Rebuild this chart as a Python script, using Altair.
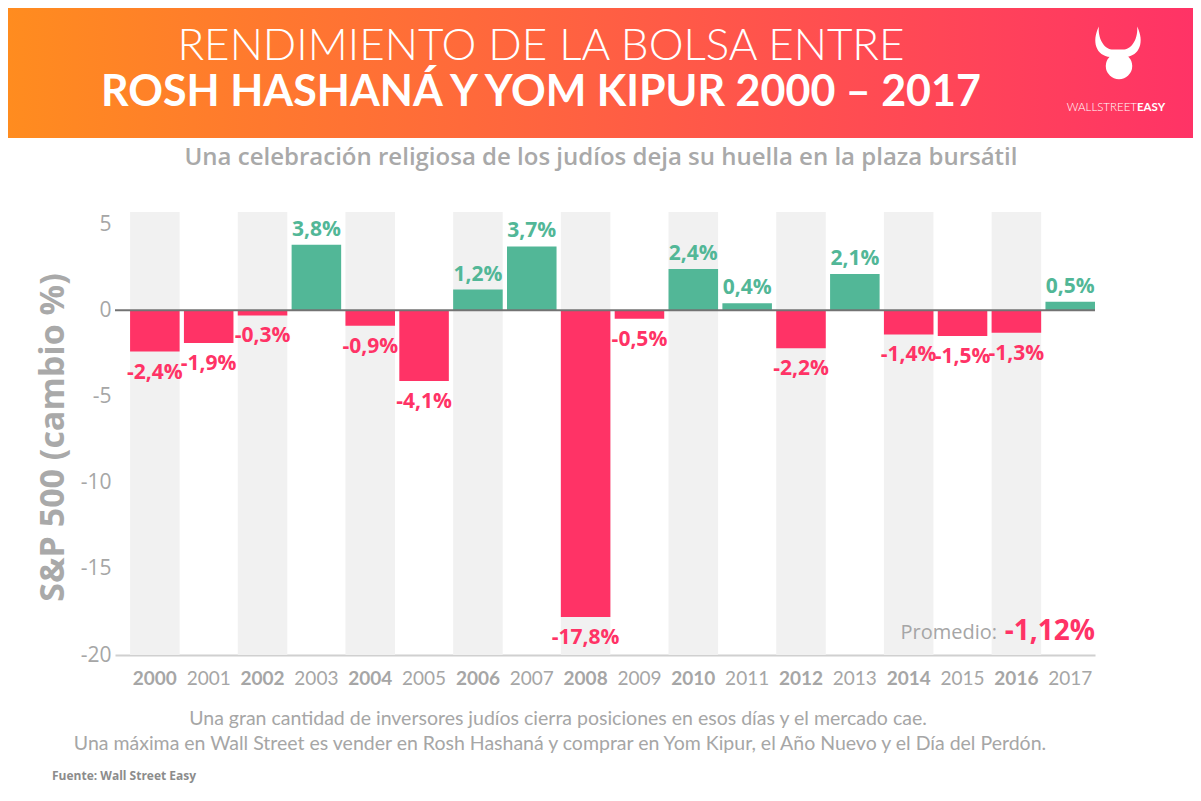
import altair as alt
import pandas as pd

years = [2000, 2001, 2002, 2003, 2004, 2005, 2006, 2007, 2008,
         2009, 2010, 2011, 2012, 2013, 2014, 2015, 2016, 2017]
values = [-2.4, -1.9, -0.3, 3.8, -0.9, -4.1, 1.2, 3.7, -17.8,
          -0.5, 2.4, 0.4, -2.2, 2.1, -1.4, -1.5, -1.3, 0.5]
y_ticks = [5, 0, -5, -10, -15, -20]

title1 = "RENDIMIENTO DE LA BOLSA ENTRE"
title2 = "ROSH HASHANÁ Y YOM KIPUR 2000 – 2017"
subtitle = "Una celebración religiosa de los judíos deja su huella en la plaza bursátil"
foot1 = "Una gran cantidad de inversores judíos cierra posiciones en esos días y el mercado cae."
foot2 = "Una máxima en Wall Street es vender en Rosh Hashaná y comprar en Yom Kipur, el Año Nuevo y el Día del Perdón."
source = "Fuente: Wall Street Easy"

PINK = "#ff3366"
GREEN = "#52b797"
GRAY_TXT = "#a6a6a6"

df = pd.DataFrame({"year": years, "value": values})
df["sign"] = ["pos" if v > 0 else "neg" for v in values]
df["label"] = [f"{v:.1f}".replace(".", ",") + "%" for v in values]
df["even"] = [y % 2 == 0 for y in years]
avg = sum(values) / len(values)
avg_label = f"{avg:.2f}".replace(".", ",") + "%"

W, H = 980, 443
PL, PT, PR, PB = 107, 204, 98, 138

x_enc = alt.X(
    "year:O",
    scale=alt.Scale(paddingInner=0.08, paddingOuter=0.14, align=1),
    axis=alt.Axis(
        title=None, labelAngle=0, ticks=False, domain=True,
        domainColor="#d0d0d0", domainWidth=2,
        labelFont="Lato", labelFontSize=19, labelColor=GRAY_TXT,
        labelPadding=14,
        labelFontWeight=alt.condition("datum.value % 2 == 0", alt.value("bold"), alt.value("normal")),
    ),
)
y_scale = alt.Scale(domain=[-20, 5.7], nice=False, zero=False)
y_enc = alt.Y(
    "value:Q", scale=y_scale,
    axis=alt.Axis(
        values=y_ticks, grid=False, domain=False, ticks=False,
        labelFont="Open Sans", labelFontSize=21, labelColor=GRAY_TXT,
        labelPadding=4, labelExpr="'' + datum.value",
        title="S&P 500 (cambio %)", titleFont="Open Sans", titleFontSize=34,
        titleFontWeight="bold", titleColor="#a9a9a9", titleAngle=-90,
        titleX=-62, titleY=225, titleAlign="center", titleBaseline="middle",
    ),
)

base = alt.Chart(df)

bg = base.transform_filter("datum.even").mark_bar(color="#f1f1f1").encode(
    x=x_enc, y=alt.value(0), y2=alt.value(H)
)
bars = base.mark_bar().encode(
    x=x_enc, y=y_enc, y2=alt.datum(0),
    color=alt.Color("sign:N", scale=alt.Scale(domain=["pos", "neg"], range=[GREEN, PINK]), legend=None),
)
lab_pos = base.transform_filter("datum.value > 0").mark_text(
    font="Open Sans", fontSize=21, fontWeight="bold", color=GREEN, dy=-15
).encode(x=x_enc, y=alt.Y("value:Q", scale=y_scale), text="label:N")
lab_neg = base.transform_filter("datum.value <= 0").mark_text(
    font="Open Sans", fontSize=21, fontWeight="bold", color=PINK, dy=21
).encode(x=x_enc, y=alt.Y("value:Q", scale=y_scale), text="label:N")

zero = alt.Chart(alt.Data(values=[{"z": 0}])).mark_rule(color="#737373", strokeWidth=2).encode(
    y=alt.Y("z:Q", scale=y_scale), x=alt.value(0), x2=alt.value(W)
)

one = alt.Data(values=[{}])


def txt(text, x, y, size, color, weight="normal", font="Lato", align="center", baseline="middle"):
    return alt.Chart(one).mark_text(
        text=text, font=font, fontSize=size, color=color, fontWeight=weight,
        align=align, baseline=baseline
    ).encode(x=alt.value(x), y=alt.value(y))


header = alt.Chart(one).mark_rect(
    color=alt.Gradient(
        gradient="linear",
        stops=[alt.GradientStop(color="#ff8c1f", offset=0), alt.GradientStop(color=PINK, offset=1)],
        x1=0, x2=1, y1=0, y2=0,
    )
).encode(x=alt.value(-PL), x2=alt.value(W + PR), y=alt.value(-PT), y2=alt.value(-74))

horns = alt.Chart(one).mark_point(
    shape="M -0.75 -1 C -1.05 -0.4 -0.85 0.15 -0.3 0.2 L 0.3 0.2 C 0.85 0.15 1.05 -0.4 0.75 -1 C 0.8 -0.55 0.55 -0.12 0.25 -0.1 L -0.25 -0.1 C -0.55 -0.12 -0.8 -0.55 -0.75 -1 Z",
    filled=True, color="white", opacity=1, size=2600, strokeWidth=0,
).encode(x=alt.value(1003), y=alt.value(-160))
fist = alt.Chart(one).mark_point(
    shape="circle", filled=True, color="white", opacity=1, size=700, strokeWidth=0
).encode(x=alt.value(1004), y=alt.value(-146))

layers = [
    header,
    horns, fist,
    txt("WALLSTREET", 1022, -104, 11.5, "white", 300, align="right"),
    txt("EASY", 1022, -104, 11.5, "white", "bold", align="left"),
    txt(title1, 426, -165, 44, "white", 300),
    txt(title2, 426, -119, 43, "white", "bold"),
    txt(subtitle, 486, -54, 24, "#a9a9a9", 600, font="Open Sans"),
    bg, bars, zero, lab_pos, lab_neg,
    txt("Promedio:", 882, 421, 20, GRAY_TXT, "normal", font="Open Sans", align="right"),
    txt(avg_label, W, 420, 28, PINK, "bold", font="Open Sans", align="right"),
    txt(foot1, 443, 507, 19.5, GRAY_TXT, "normal"),
    txt(foot2, 445, 532, 19.5, GRAY_TXT, "normal"),
    txt(source, -63, 564, 12, "#8c8c8c", "bold", font="Open Sans", align="left"),
]

chart = alt.layer(*layers).properties(
    width=W, height=H,
    autosize=alt.AutoSizeParams(type="none"),
    padding={"left": PL, "top": PT, "right": PR, "bottom": PB},
    background="white",
).configure_view(strokeWidth=0, stroke="transparent")

chart.save("out.html", embed_options={"renderer": "svg", "actions": False})
